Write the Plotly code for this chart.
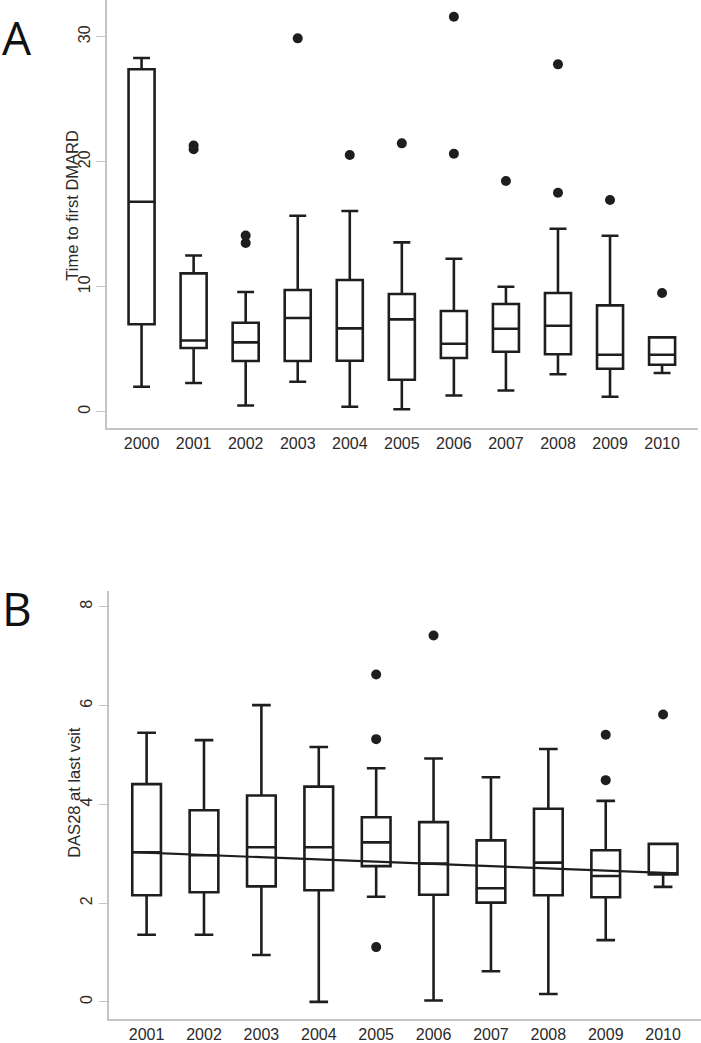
import plotly.graph_objects as go

# ---------------- Panel A: Time to first DMARD ----------------
years_A = [2000, 2001, 2002, 2003, 2004, 2005, 2006, 2007, 2008, 2009, 2010]
A_lower = [2.0, 2.3, 0.5, 2.4, 0.4, 0.2, 1.3, 1.7, 3.0, 1.2, 3.1]
A_q1 = [7.0, 5.1, 4.06, 4.06, 4.08, 2.56, 4.3, 4.8, 4.6, 3.44, 3.76]
A_median = [16.8, 5.7, 5.55, 7.5, 6.67, 7.39, 5.44, 6.64, 6.88, 4.56, 4.56]
A_q3 = [27.4, 11.07, 7.12, 9.74, 10.54, 9.42, 8.06, 8.62, 9.5, 8.51, 5.95]
A_upper = [28.3, 12.5, 9.58, 15.68, 16.06, 13.55, 12.24, 10.0, 14.64, 14.08, 5.95]
A_out_years = [2001, 2001, 2002, 2002, 2003, 2004, 2005, 2006, 2006, 2007, 2008, 2008, 2009, 2010]
A_out_values = [21.0, 21.3, 13.5, 14.1, 29.87, 20.54, 21.47, 31.6, 20.64, 18.46, 27.79, 17.52, 16.94, 9.5]

# ---------------- Panel B: DAS28 at last visit ----------------
years_B = [2001, 2002, 2003, 2004, 2005, 2006, 2007, 2008, 2009, 2010]
B_lower = [1.36, 1.36, 0.95, 0.0, 2.13, 0.03, 0.62, 0.16, 1.25, 2.33]
B_q1 = [2.16, 2.22, 2.34, 2.26, 2.75, 2.17, 2.01, 2.16, 2.12, 2.58]
B_median = [3.03, 2.97, 3.13, 3.13, 3.23, 2.80, 2.30, 2.82, 2.55, 2.58]
B_q3 = [4.41, 3.88, 4.18, 4.36, 3.74, 3.64, 3.27, 3.91, 3.07, 3.20]
B_upper = [5.45, 5.30, 6.01, 5.16, 4.73, 4.93, 4.55, 5.12, 4.07, 3.20]
B_out_years = [2005, 2005, 2005, 2006, 2009, 2009, 2010]
B_out_values = [6.63, 5.32, 1.11, 7.42, 5.41, 4.49, 5.82]
trend_value_2001 = 3.02
trend_slope = -0.0453

BOX_W = 0.5
LINE_C = "#1e1e1e"
AXIS_C = "#c4c4c4"
TEXT_C = "#2a2a2a"
FONT = "Liberation Sans, Arial, sans-serif"

fig = go.Figure()

def add_box(xref, yref, years, lo, q1, med, q3, hi):
    fig.add_trace(go.Box(
        x=years, lowerfence=lo, q1=q1, median=med, q3=q3, upperfence=hi,
        width=BOX_W, whiskerwidth=0.65, boxpoints=False,
        fillcolor="white", line=dict(color=LINE_C, width=2.6),
        xaxis=xref, yaxis=yref, showlegend=False, hoverinfo="skip"))

def add_outliers(xref, yref, xs, ys):
    fig.add_trace(go.Scatter(
        x=xs, y=ys, mode="markers",
        marker=dict(size=10, color=LINE_C),
        xaxis=xref, yaxis=yref, showlegend=False, hoverinfo="skip"))

add_box("x", "y", years_A, A_lower, A_q1, A_median, A_q3, A_upper)
add_outliers("x", "y", A_out_years, A_out_values)

add_box("x2", "y2", years_B, B_lower, B_q1, B_median, B_q3, B_upper)
add_outliers("x2", "y2", B_out_years, B_out_values)

tx = [years_B[0] - BOX_W / 2, years_B[-1] + BOX_W / 2]
ty = [trend_value_2001 + trend_slope * (x - 2001) for x in tx]
fig.add_trace(go.Scatter(x=tx, y=ty, mode="lines",
                         line=dict(color=LINE_C, width=2.2),
                         xaxis="x2", yaxis="y2", showlegend=False, hoverinfo="skip"))

H = 1043.0
W = 701.0
common_x = dict(showgrid=False, zeroline=False, showline=True, linecolor=AXIS_C, linewidth=1.5,
                ticks="", tickmode="array", tickfont=dict(family=FONT, size=16, color=TEXT_C))
common_y = dict(showgrid=False, zeroline=False, showline=True, linecolor=AXIS_C, linewidth=1.5,
                ticks="outside", ticklen=9, tickcolor=AXIS_C, tickwidth=1.2, tickangle=-90,
                tickfont=dict(family=FONT, size=16, color=TEXT_C))

def yt(px):
    return 1 - px / H

fig.update_layout(
    width=701, height=1043,
    margin=dict(l=0, r=0, t=0, b=0),
    paper_bgcolor="white", plot_bgcolor="white",
    xaxis=dict(common_x, domain=[106.7 / W, 698 / W], range=[1999.33, 2010.69],
               tickvals=years_A, ticktext=[str(y) for y in years_A], anchor="y"),
    yaxis=dict(common_y, domain=[yt(427.7), 1.0], range=[-1.28, 32.94],
               tickvals=[0, 10, 20, 30], anchor="x"),
    xaxis2=dict(common_x, domain=[109.3 / W, 1.0], range=[2000.35, 2010.66],
                tickvals=years_B, ticktext=[str(y) for y in years_B], anchor="y2"),
    yaxis2=dict(common_y, domain=[yt(1018.7), yt(591)], range=[-0.34, 8.32],
                tickvals=[0, 2, 4, 6, 8], anchor="x2"),
    annotations=[
        dict(text="Time to first DMARD", x=71.7 / W, y=yt(205), xref="paper", yref="paper",
             xanchor="center", yanchor="middle", textangle=-90, showarrow=False,
             font=dict(family=FONT, size=16.5, color=TEXT_C)),
        dict(text="DAS28 at last vsit", x=73.3 / W, y=yt(792.5), xref="paper", yref="paper",
             xanchor="center", yanchor="middle", textangle=-90, showarrow=False,
             font=dict(family=FONT, size=16.5, color=TEXT_C)),
        dict(text="A", x=0, y=yt(37), xref="paper", yref="paper", xanchor="left", yanchor="middle",
             showarrow=False, font=dict(family="Open Sans, sans-serif", size=46, color="#111")),
        dict(text="B", x=0, y=yt(608), xref="paper", yref="paper", xanchor="left", yanchor="middle",
             showarrow=False, font=dict(family="Open Sans, sans-serif", size=46, color="#111")),
    ],
)

fig.write_html("out.html", config={"displayModeBar": False},
               post_script="document.body.style.margin='0';document.body.style.overflow='hidden';")
